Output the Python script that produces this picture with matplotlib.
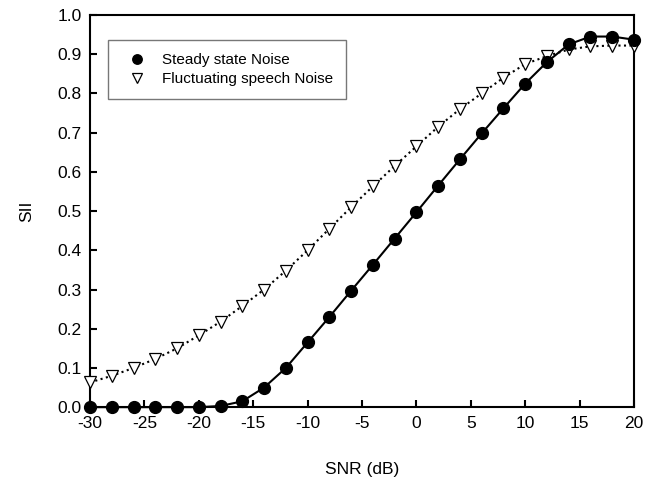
import matplotlib
matplotlib.use("Agg")
import matplotlib.pyplot as plt

plt.rcParams['font.family'] = ['Liberation Sans', 'DejaVu Sans']

snr = [-30, -28, -26, -24, -22, -20, -18, -16, -14, -12, -10, -8, -6, -4, -2,
       0, 2, 4, 6, 8, 10, 12, 14, 16, 18, 20]
steady = [0.0, 0.0, 0.0, 0.0, 0.0, 0.0, 0.003, 0.015, 0.05, 0.10, 0.165, 0.23,
          0.297, 0.363, 0.43, 0.497, 0.565, 0.632, 0.698, 0.762, 0.825, 0.88,
          0.925, 0.945, 0.945, 0.937]
fluct = [0.063, 0.08, 0.10, 0.123, 0.15, 0.183, 0.218, 0.258, 0.30, 0.348,
         0.40, 0.455, 0.51, 0.563, 0.615, 0.665, 0.715, 0.76, 0.80, 0.84,
         0.875, 0.895, 0.912, 0.92, 0.922, 0.922]
xticks = [-30, -25, -20, -15, -10, -5, 0, 5, 10, 15, 20]
yticks = [0.0, 0.1, 0.2, 0.3, 0.4, 0.5, 0.6, 0.7, 0.8, 0.9, 1.0]

fig = plt.figure(figsize=(6.57, 4.83), dpi=100)
ax = fig.add_axes([0.137, 0.157, 0.828, 0.812])

ax.plot(snr, fluct, linestyle=':', color='black', linewidth=1.5,
        marker='v', markersize=8.5, markerfacecolor='white',
        markeredgecolor='black', markeredgewidth=0.9,
        label='Fluctuating speech Noise', clip_on=False, zorder=3)
ax.plot(snr, steady, linestyle='-', color='black', linewidth=1.5,
        marker='o', markersize=8.5, markerfacecolor='black',
        markeredgecolor='black', label='Steady state Noise',
        clip_on=False, zorder=4)

ax.set_xlim(-30, 20)
ax.set_ylim(0, 1.0)
ax.set_xticks(xticks)
ax.set_yticks(yticks)
ax.set_xticklabels([f"{t}" for t in xticks])
ax.set_yticklabels([f"{t:.1f}" for t in yticks])
ax.tick_params(direction='in', length=5, width=1.5, labelsize=12.5, pad=6)
for s in ax.spines.values():
    s.set_linewidth(1.5)

ax.set_xlabel('SNR (dB)', fontsize=12.5, labelpad=23)
ax.set_ylabel('SII', fontsize=12.5, labelpad=17)

handles, labels = ax.get_legend_handles_labels()
leg = ax.legend([handles[1], handles[0]], [labels[1], labels[0]],
                loc='upper left', bbox_to_anchor=(0.033, 0.935),
                fontsize=11, frameon=True, fancybox=False,
                handlelength=2.1, handletextpad=0.6, borderpad=0.85,
                labelspacing=0.3, borderaxespad=0, markerscale=0.8)
leg.get_frame().set_edgecolor('#555555')
leg.get_frame().set_linewidth(1.0)
for h in leg.legend_handles:
    h.set_linestyle('None')

fig.savefig('out.png', dpi=100)
